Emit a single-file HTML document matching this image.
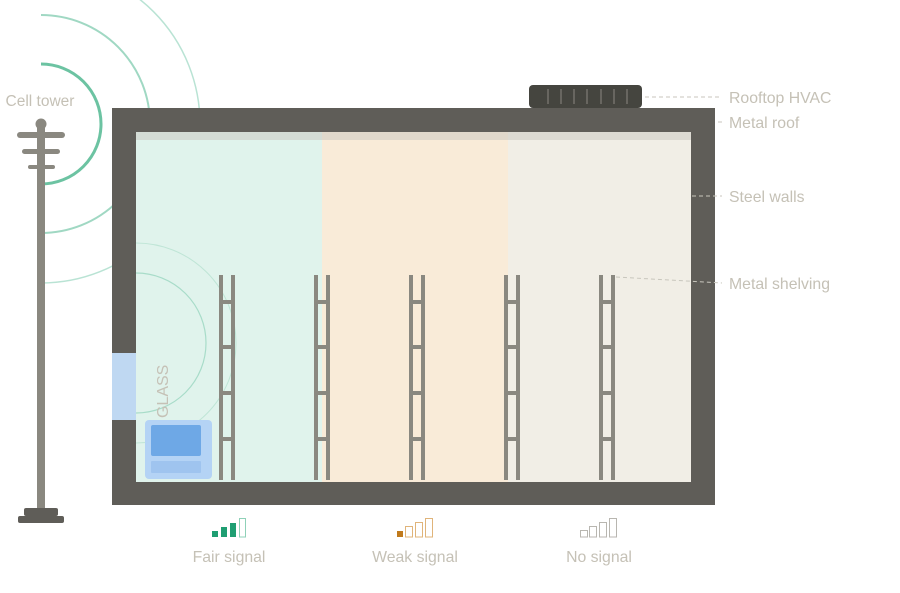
<!DOCTYPE html>
<html><head><meta charset="utf-8"><style>
html,body{margin:0;padding:0;background:#fff;}
svg{display:block;font-family:"Liberation Sans",sans-serif;}
</style></head><body>
<svg width="900" height="593" viewBox="0 0 900 593" xmlns="http://www.w3.org/2000/svg">
<path d="M41 64 A60 60 0 0 1 41 184" fill="none" stroke="#6cc3a2" stroke-width="3"/>
<path d="M41 15 A109 109 0 0 1 41 233" fill="none" stroke="#8fd1b8" stroke-width="2" opacity="0.85"/>
<path d="M41 -35 A159 159 0 0 1 41 283" fill="none" stroke="#a8dcc9" stroke-width="1.5" opacity="0.8"/>
<rect x="37" y="126" width="8" height="386" fill="#8a8880"/>
<circle cx="41" cy="124" r="5.5" fill="#8a8880"/>
<rect x="17" y="132" width="48" height="6" rx="3" fill="#8a8880"/>
<rect x="22" y="149" width="38" height="5" rx="2.5" fill="#8a8880"/>
<rect x="28" y="165" width="27" height="4" rx="2" fill="#8a8880"/>
<rect x="24" y="508" width="34" height="8" rx="2" fill="#5f5d58"/>
<rect x="18" y="516" width="46" height="7" rx="2" fill="#5f5d58"/>
<text x="40" y="106" font-size="15.5" fill="#c5c1b6" text-anchor="middle">Cell tower</text>
<rect x="112" y="108" width="603" height="397" fill="#5f5d58"/>
<rect x="112" y="353" width="24" height="67" fill="#bfd8f2"/>
<rect x="136" y="132" width="186" height="350" fill="#e0f3ec"/>
<rect x="322" y="132" width="186" height="350" fill="#f9ebd8"/>
<rect x="508" y="132" width="183" height="350" fill="#f1eee6"/>
<rect x="136" y="132" width="555" height="8" fill="#c8c6bd" opacity="0.5"/>
<path d="M136 273 A70 70 0 0 1 136 413" fill="none" stroke="#a8dcc9" stroke-width="1.2"/>
<path d="M136 243 A100 100 0 0 1 136 443" fill="none" stroke="#bfe5d6" stroke-width="1"/>
<g fill="#8a8880">
<g id="sh"><rect x="219" y="275" width="4" height="205"/><rect x="231" y="275" width="4" height="205"/>
<rect x="219" y="300" width="16" height="4"/><rect x="219" y="345" width="16" height="4"/><rect x="219" y="391" width="16" height="4"/><rect x="219" y="437" width="16" height="4"/></g>
<use href="#sh" x="95"/><use href="#sh" x="190"/><use href="#sh" x="285"/><use href="#sh" x="380"/>
</g>
<rect x="145" y="420" width="67" height="59" rx="4" fill="#b4d3f5"/>
<rect x="151" y="425" width="50" height="31" rx="2" fill="#6ea8e6"/>
<rect x="151" y="461" width="50" height="12" rx="1" fill="#9fc4ef"/>
<text x="0" y="0" font-size="16" fill="#c5c1b6" transform="translate(168 418) rotate(-90)">GLASS</text>
<rect x="529" y="85" width="113" height="23" rx="4" fill="#45453f"/>
<g stroke="#8a8880" stroke-width="1"><line x1="548" y1="89" x2="548" y2="104"/><line x1="561" y1="89" x2="561" y2="104"/><line x1="574" y1="89" x2="574" y2="104"/><line x1="587" y1="89" x2="587" y2="104"/><line x1="601" y1="89" x2="601" y2="104"/><line x1="614" y1="89" x2="614" y2="104"/><line x1="627" y1="89" x2="627" y2="104"/></g>
<g stroke="#c8c6bd" stroke-width="1" stroke-dasharray="4 3">
<line x1="645" y1="97" x2="722" y2="97"/>
<line x1="718" y1="122" x2="723" y2="122"/>
<line x1="692" y1="196" x2="722" y2="196"/>
<line x1="616" y1="277" x2="722" y2="283"/>
</g>
<g font-size="15.8" fill="#c5c1b6">
<text x="729" y="103">Rooftop HVAC</text>
<text x="729" y="128">Metal roof</text>
<text x="729" y="202">Steel walls</text>
<text x="729" y="289">Metal shelving</text>
</g>
<g>
<rect x="212" y="531" width="6" height="6" fill="#1f9e72"/>
<rect x="221" y="527" width="6" height="10" fill="#1f9e72"/>
<rect x="230" y="523" width="6" height="14" fill="#1f9e72"/>
<rect x="239.5" y="518.5" width="6" height="18.5" fill="none" stroke="#8fd1b8" stroke-width="1"/>
</g>
<g>
<rect x="397" y="531" width="6" height="6" fill="#c07a1c"/>
<rect x="405.5" y="526.5" width="7" height="10.5" fill="none" stroke="#e0b47a" stroke-width="1"/>
<rect x="415.5" y="522.5" width="7" height="14.5" fill="none" stroke="#e0b47a" stroke-width="1"/>
<rect x="425.5" y="518.5" width="7" height="18.5" fill="none" stroke="#e0b47a" stroke-width="1"/>
</g>
<g fill="none" stroke="#b8b6b0" stroke-width="1">
<rect x="580.5" y="530.5" width="7" height="6.5"/>
<rect x="589.5" y="526.5" width="7" height="10.5"/>
<rect x="599.5" y="522.5" width="7" height="14.5"/>
<rect x="609.5" y="518.5" width="7" height="18.5"/>
</g>
<g font-size="15.8" fill="#c5c1b6" text-anchor="middle">
<text x="229" y="562">Fair signal</text>
<text x="415" y="562">Weak signal</text>
<text x="599" y="562">No signal</text>
</g>
</svg>
</body></html>
